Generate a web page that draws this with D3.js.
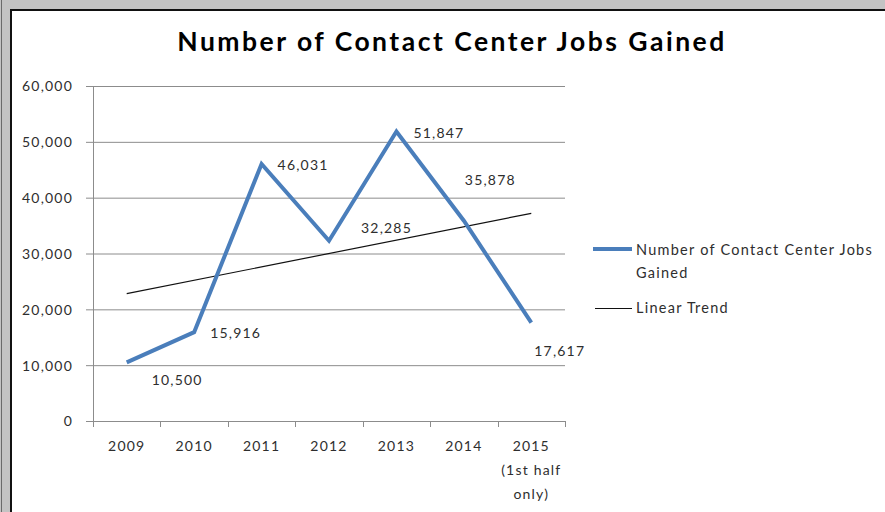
<!DOCTYPE html>
<html>
<head>
<meta charset="utf-8">
<script src="https://cdn.jsdelivr.net/npm/d3@7"></script>
<style>
  html, body { margin: 0; padding: 0; background: #c3c3c3; }
  svg { display: block; }
  text { font-family: Lato, "Open Sans", sans-serif; fill: #2e2e2e; }
</style>
</head>
<body>
<svg id="chart" width="885" height="512"></svg>
<script>
// values
var years = ["2009", "2010", "2011", "2012", "2013", "2014", "2015\n(1st half\nonly)"];
var jobs = [10500, 15916, 46031, 32285, 51847, 35878, 17617];
var trendYears = ["2009", "2015\n(1st half\nonly)"];
var trendValues = [22800, 37200];
var yTicks = [0, 10000, 20000, 30000, 40000, 50000, 60000];
var seriesName = ["Number of Contact Center Jobs", "Gained"];
var trendName = "Linear Trend";

// where each data label sits relative to its point (dx to text start, dy to baseline)
var labelOffsets = [[25, 23], [16, 6], [16, 6], [32, -8], [17, 6], [1, -36], [3, 33]];

var width = 885, height = 512;
var margin = {top: 86, right: 320, bottom: 91, left: 93};
var fs = "14px", ls = "1.2px";

var svg = d3.select("#chart");

// window frame
svg.append("rect").attr("x", 0).attr("y", 0).attr("width", width).attr("height", height).attr("fill", "#c3c3c3");
svg.append("line").attr("x1", 1.5).attr("x2", 1.5).attr("y1", 0).attr("y2", height).attr("stroke", "#6a6a6a").attr("stroke-width", 1);
svg.append("rect").attr("x", 11).attr("y", 10).attr("width", width).attr("height", height)
  .attr("fill", "#ffffff").attr("stroke", "#111").attr("stroke-width", 2);

var plotW = width - margin.left - margin.right;
var plotH = height - margin.top - margin.bottom;

var x = d3.scaleBand().domain(years).range([margin.left, margin.left + plotW]);
var y = d3.scaleLinear().domain([0, 60000]).range([margin.top + plotH, margin.top]);
var cx = function(d){ return x(d) + x.bandwidth() / 2; };

// title
var titleText = "Number of Contact Center Jobs Gained";
var title = svg.append("text")
  .attr("x", 452).attr("y", 51)
  .attr("text-anchor", "middle")
  .style("font-weight", "bold")
  .style("font-size", "26.5px")
  .style("fill", "#000")
  .text(titleText);
var tw = title.node().getComputedTextLength();
title.style("letter-spacing", ((547 - tw) / (titleText.length - 1)) + "px");

// gridlines
svg.append("g").attr("class", "grid")
  .attr("transform", "translate(" + margin.left + ",0)")
  .call(d3.axisLeft(y).tickValues(yTicks.slice(1)).tickSize(-plotW).tickFormat(""))
  .call(function(g){
    g.select(".domain").remove();
    g.selectAll("line").attr("stroke", "#8c8c8c").attr("stroke-width", 1);
  });

// y axis
svg.append("g")
  .attr("transform", "translate(" + margin.left + ",0)")
  .call(d3.axisLeft(y).tickValues(yTicks).tickSize(7).tickPadding(13).tickFormat(d3.format(",")))
  .call(function(g){
    g.select(".domain").attr("stroke", "#8c8c8c").attr("d", "M0.5," + (margin.top) + "V" + (margin.top + plotH + 6));
    g.selectAll("line").attr("stroke", "#8c8c8c");
    g.selectAll("text").style("font-size", fs).style("letter-spacing", ls).style("fill", "#2e2e2e").attr("dy", "0.35em");
  });

// x axis
var xg = svg.append("g")
  .attr("transform", "translate(0," + (margin.top + plotH) + ")");
xg.append("line")
  .attr("x1", margin.left).attr("x2", margin.left + plotW)
  .attr("y1", 0.5).attr("y2", 0.5)
  .attr("stroke", "#8c8c8c");
var bounds = years.map(function(d){ return x(d); }).concat([x.range()[1]]);
xg.selectAll(".xtick").data(bounds).enter().append("line")
  .attr("class", "xtick")
  .attr("x1", function(d){ return Math.round(d) + 0.5; })
  .attr("x2", function(d){ return Math.round(d) + 0.5; })
  .attr("y1", 0).attr("y2", 6)
  .attr("stroke", "#8c8c8c");
xg.selectAll(".xlabel").data(years).enter().append("text")
  .attr("class", "xlabel")
  .attr("text-anchor", "middle")
  .attr("y", 30)
  .style("font-size", fs)
  .style("letter-spacing", ls)
  .each(function(d){
    var t = d3.select(this);
    d.split("\n").forEach(function(line, i){
      t.append("tspan").attr("x", cx(d)).attr("dy", i === 0 ? 0 : 24).text(line);
    });
  });

// trend line
svg.append("line")
  .attr("x1", cx(trendYears[0])).attr("y1", y(trendValues[0]))
  .attr("x2", cx(trendYears[1])).attr("y2", y(trendValues[1]))
  .attr("stroke", "#111").attr("stroke-width", 1.2);

// series line
var line = d3.line()
  .x(function(d, i){ return cx(years[i]); })
  .y(function(d){ return y(d); });
svg.append("path")
  .datum(jobs)
  .attr("d", line)
  .attr("fill", "none")
  .attr("stroke", "#4a7ebb")
  .attr("stroke-width", 4)
  .attr("stroke-linejoin", "miter");

// data labels
svg.selectAll(".dlabel").data(jobs).enter().append("text")
  .attr("class", "dlabel")
  .attr("x", function(d, i){ return cx(years[i]) + labelOffsets[i][0]; })
  .attr("y", function(d, i){ return y(d) + labelOffsets[i][1]; })
  .style("font-size", fs)
  .style("letter-spacing", ls)
  .text(d3.format(","));

// legend
var lg = svg.append("g");
lg.append("line").attr("x1", 593).attr("x2", 632).attr("y1", 249).attr("y2", 249)
  .attr("stroke", "#4a7ebb").attr("stroke-width", 4);
var lt = lg.append("text").attr("y", 255).style("font-size", "14.5px").style("letter-spacing", "1.25px");
seriesName.forEach(function(s, i){
  lt.append("tspan").attr("x", 636).attr("dy", i === 0 ? 0 : 22.5).text(s);
});
lg.append("line").attr("x1", 595).attr("x2", 632).attr("y1", 308.5).attr("y2", 308.5)
  .attr("stroke", "#111").attr("stroke-width", 1.2);
lg.append("text").attr("x", 636).attr("y", 313).style("font-size", "14.5px").style("letter-spacing", "1.25px").text(trendName);
</script>
</body>
</html>
